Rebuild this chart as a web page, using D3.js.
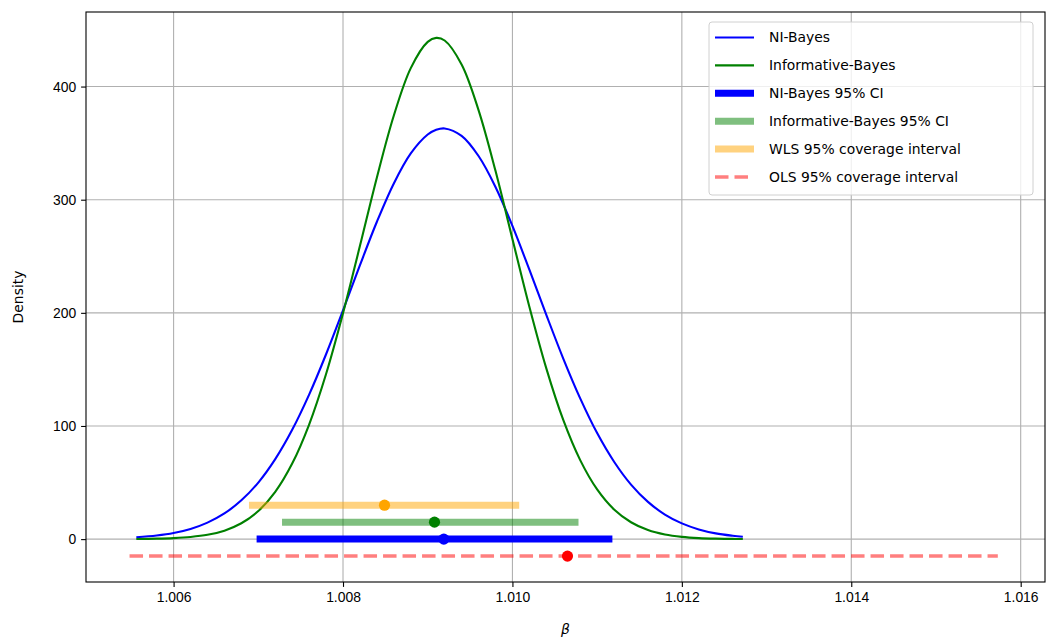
<!DOCTYPE html>
<html>
<head>
<meta charset="utf-8">
<script src="https://cdn.jsdelivr.net/npm/d3@7/dist/d3.min.js"></script>
<style>
  body { margin: 0; background: #fff; }
  svg { font-family: "DejaVu Sans", sans-serif; }
  .tick text { font-size: 13.9px; fill: #000; }
  .grid line { stroke: #b0b0b0; stroke-width: 1.1px; }
</style>
</head>
<body>
<svg class="canvas"></svg>
<script>
// posterior densities
var beta = [1.00556, 1.0058, 1.0060, 1.0062, 1.0064, 1.0066, 1.0068, 1.0070, 1.0072, 1.0074,
  1.0076, 1.0078, 1.0080, 1.0082, 1.0084, 1.0086, 1.0088, 1.0090, 1.0091, 1.0092, 1.0094,
  1.0096, 1.0098, 1.0100, 1.0102, 1.0104, 1.0106, 1.0108, 1.0110, 1.0112, 1.0114,
  1.0116, 1.0118, 1.0120, 1.0122, 1.0124, 1.0126, 1.01272];
var niBayes = [1.6, 3.2, 5.4, 9.0, 14.6, 22.7, 34.3, 50.0, 70.7, 96.6,
  127.7, 163.4, 202.2, 242.1, 280.5, 314.4, 340.9, 357.6, 361.8, 363.0, 356.4,
  338.6, 311.3, 276.8, 238.1, 198.2, 159.6, 124.4, 93.7, 68.4, 48.2,
  32.9, 21.7, 13.9, 8.6, 5.1, 3.0, 2.1];
var infoBayes = [0.1, 0.4, 0.9, 1.9, 3.8, 7.5, 14.0, 24.8, 41.8, 66.8,
  101.3, 145.9, 199.6, 259.2, 319.7, 374.4, 416.3, 439.5, 443.0, 440.7, 419.5,
  379.2, 325.5, 265.3, 205.4, 150.9, 105.3, 69.8, 43.9, 26.2, 14.9,
  8.0, 4.1, 2.0, 0.9, 0.4, 0.2, 0.1];

// intervals
var intervalNames = ["NI-Bayes 95% CI", "Informative-Bayes 95% CI", "WLS 95% coverage interval", "OLS 95% coverage interval"];
var intervalLow = [1.00698, 1.00728, 1.00689, 1.00548];
var intervalHigh = [1.01118, 1.01078, 1.01008, 1.01573];
var intervalPoint = [1.00919, 1.00908, 1.00849, 1.01065];
var intervalLevel = [0, 15, 30, -15];

var xTicks = [1.006, 1.008, 1.010, 1.012, 1.014, 1.016];
var yTicks = [0, 100, 200, 300, 400];

var W = 1047, H = 644;
var axLeft = 86, axTop = 12, axRight = 1045, axBottom = 582;

var intervalStyle = [
  { color: "#0000ff", opacity: 1, width: 7, dash: null },
  { color: "#008000", opacity: 0.5, width: 7, dash: null },
  { color: "#ffa500", opacity: 0.5, width: 7, dash: null },
  { color: "#ff0000", opacity: 0.5, width: 3.5, dash: "13.5,6" }
];

var svg = d3.select(".canvas").attr("width", W).attr("height", H);

var x = d3.scaleLinear().domain([1.004966, 1.016287]).range([axLeft, axRight]);
var y = d3.scaleLinear().domain([-37.9, 465.9]).range([axBottom, axTop]);

// grid
var grid = svg.append("g").attr("class", "grid");
grid.selectAll("line.gx").data(xTicks).enter().append("line").attr("class", "gx")
  .attr("x1", function(d) { return x(d); }).attr("x2", function(d) { return x(d); })
  .attr("y1", axTop).attr("y2", axBottom);
grid.selectAll("line.gy").data(yTicks).enter().append("line").attr("class", "gy")
  .attr("y1", function(d) { return y(d); }).attr("y2", function(d) { return y(d); })
  .attr("x1", axLeft).attr("x2", axRight);

var plot = svg.append("g");

var line = d3.line()
  .x(function(d, i) { return x(beta[i]); })
  .y(function(d) { return y(d); })
  .curve(d3.curveCatmullRom);

plot.append("path").datum(niBayes).attr("d", line)
  .attr("fill", "none").attr("stroke", "#0000ff").attr("stroke-width", 2.1);
plot.append("path").datum(infoBayes).attr("d", line)
  .attr("fill", "none").attr("stroke", "#008000").attr("stroke-width", 2.1);

for (var i = 0; i < intervalNames.length; i++) {
  var s = intervalStyle[i];
  plot.append("line")
    .attr("x1", x(intervalLow[i])).attr("x2", x(intervalHigh[i]))
    .attr("y1", y(intervalLevel[i])).attr("y2", y(intervalLevel[i]))
    .attr("stroke", s.color).attr("stroke-opacity", s.opacity)
    .attr("stroke-width", s.width)
    .attr("stroke-dasharray", s.dash);
  plot.append("circle")
    .attr("cx", x(intervalPoint[i])).attr("cy", y(intervalLevel[i]))
    .attr("r", 5.6).attr("fill", s.color);
}

// axes
var xAxis = d3.axisBottom(x).tickValues(xTicks).tickFormat(d3.format(".3f")).tickSize(4.9).tickPadding(4.9);
var yAxis = d3.axisLeft(y).tickValues(yTicks).tickFormat(d3.format("d")).tickSize(4.9).tickPadding(4.9);

svg.append("g").attr("transform", "translate(0," + axBottom + ")").call(xAxis)
  .call(function(g) { g.select(".domain").remove(); });
svg.append("g").attr("transform", "translate(" + axLeft + ",0)").call(yAxis)
  .call(function(g) { g.select(".domain").remove(); });
svg.selectAll(".tick line").attr("stroke", "#000").attr("stroke-width", 1.1);

svg.append("rect")
  .attr("x", axLeft).attr("y", axTop)
  .attr("width", axRight - axLeft).attr("height", axBottom - axTop)
  .attr("fill", "none").attr("stroke", "#000").attr("stroke-width", 1.1);

svg.append("text")
  .attr("x", (axLeft + axRight) / 2).attr("y", 634)
  .attr("text-anchor", "middle")
  .style("font-size", "13.9px").style("font-style", "italic")
  .text("β");

svg.append("text")
  .attr("transform", "translate(23," + ((axTop + axBottom) / 2) + ") rotate(-90)")
  .attr("text-anchor", "middle")
  .style("font-size", "13.9px")
  .text("Density");

// legend
var legendItems = [
  { label: "NI-Bayes", color: "#0000ff", opacity: 1, width: 2.1, dash: null },
  { label: "Informative-Bayes", color: "#008000", opacity: 1, width: 2.1, dash: null }
];
for (var j = 0; j < intervalNames.length; j++) {
  legendItems.push({ label: intervalNames[j], color: intervalStyle[j].color,
    opacity: intervalStyle[j].opacity, width: intervalStyle[j].width, dash: intervalStyle[j].dash });
}

var legend = svg.append("g").attr("transform", "translate(709,22)");
legend.append("rect")
  .attr("width", 324).attr("height", 173).attr("rx", 3)
  .attr("fill", "#fff").attr("fill-opacity", 0.8)
  .attr("stroke", "#d0d0d0").attr("stroke-width", 1);

var rows = legend.selectAll("g.row").data(legendItems).enter().append("g")
  .attr("transform", function(d, i) { return "translate(0," + (15.5 + i * 27.9) + ")"; });
rows.append("line")
  .attr("x1", 6).attr("x2", 45)
  .attr("stroke", function(d) { return d.color; })
  .attr("stroke-opacity", function(d) { return d.opacity; })
  .attr("stroke-width", function(d) { return d.width; })
  .attr("stroke-dasharray", function(d) { return d.dash; });
rows.append("text")
  .attr("x", 60).attr("dy", "0.35em")
  .style("font-size", "13.9px")
  .text(function(d) { return d.label; });
</script>
</body>
</html>
